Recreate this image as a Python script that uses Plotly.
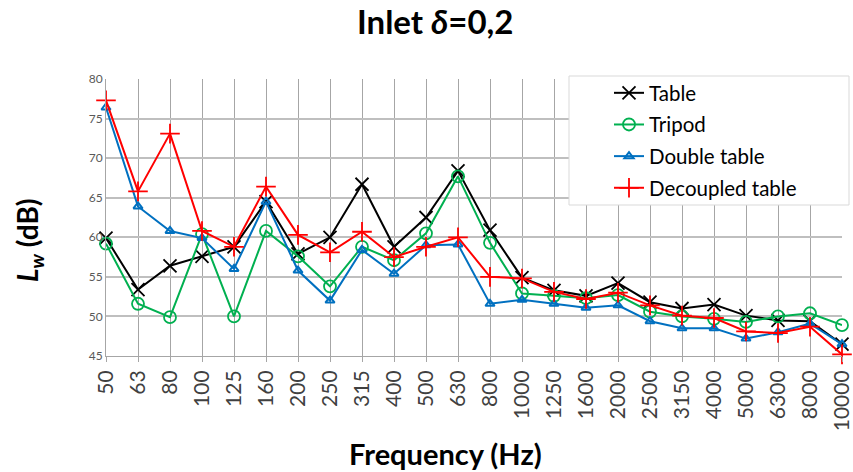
import plotly.graph_objects as go

# Octave/third-octave band centre frequencies (Hz)
freq_labels = ["50", "63", "80", "100", "125", "160", "200", "250", "315", "400",
               "500", "630", "800", "1000", "1250", "1600", "2000", "2500", "3150",
               "4000", "5000", "6300", "8000", "10000"]

# Sound power level Lw (dB) per mounting configuration
table = [59.9, 53.4, 56.4, 57.6, 58.8, 64.5, 57.9, 60.0, 66.7, 58.8, 62.5, 68.4,
         60.9, 54.9, 53.3, 52.6, 54.2, 51.8, 51.0, 51.5, 50.1, 49.5, 49.4, 46.5]
tripod = [59.2, 51.6, 49.9, 60.4, 50.0, 60.8, 57.6, 53.8, 58.8, 57.1, 60.5, 67.7,
          59.3, 52.9, 52.6, 52.3, 52.7, 50.6, 50.0, 49.7, 49.3, 50.0, 50.4, 48.9]
double_table = [76.4, 63.9, 60.8, 59.9, 56.0, 64.5, 55.8, 52.0, 58.4, 55.4, 59.0, 59.1,
                51.6, 52.1, 51.6, 51.1, 51.4, 49.4, 48.5, 48.5, 47.2, 48.0, 49.1, 46.5]
decoupled_table = [77.3, 65.8, 73.1, 60.8, 58.8, 66.4, 60.3, 58.1, 60.7, 57.5, 58.8, 60.0,
                   55.0, 54.8, 53.1, 52.2, 53.0, 51.4, 50.1, 49.8, 48.1, 47.9, 48.7, 45.2]

y_ticks = [45, 50, 55, 60, 65, 70, 75, 80]

W, H = 853, 472
L_M, R_M, T_M, B_M = 106, 11, 79, 116
PW, PH = W - L_M - R_M, H - T_M - B_M


def px_x(p):
    return (p - L_M) / PW


def px_y(p):
    return (H - B_M - p) / PH


x_idx = list(range(len(freq_labels)))

series = [
    ("Table", table, "#000000", "x-thin-open", 13, 1.8),
    ("Tripod", tripod, "#00B050", "circle-open", 12, 1.8),
    ("Double table", double_table, "#0070C0", "triangle-up-open", 8, 2),
    ("Decoupled table", decoupled_table, "#FF0000", "cross-thin-open", 14, 1.8),
]

fig = go.Figure()
for i, (name, vals, col, sym, size, mlw) in enumerate(series):
    fig.add_trace(go.Scatter(
        x=x_idx, y=vals, name=name, mode="lines+markers",
        line=dict(color=col, width=2),
        marker=dict(symbol=sym, size=size, color=col, line=dict(color=col, width=mlw)),
        legendgroup=f"g{i}", cliponaxis=False,
    ))

fig.update_layout(
    width=W, height=H,
    margin=dict(l=L_M, r=R_M, t=T_M, b=B_M, pad=0, autoexpand=False),
    paper_bgcolor="white", plot_bgcolor="white",
    font=dict(family="Lato", color="#404040"),
    showlegend=True,
    legend=dict(
        x=px_x(609), y=px_y(73), xanchor="left", yanchor="top",
        bgcolor="rgba(0,0,0,0)", borderwidth=0,
        font=dict(family="Lato", size=20.5, color="#000000"),
        tracegroupgap=2, itemwidth=30,
    ),
    xaxis=dict(
        range=[0, 23], tickmode="array", tickvals=x_idx, ticktext=freq_labels,
        tickangle=-90, tickfont=dict(family="Lato", size=21, color="#404040"),
        showgrid=True, gridcolor="#A6A6A6", gridwidth=1,
        showline=True, linecolor="#A6A6A6", linewidth=1,
        ticks="outside", ticklen=5, tickcolor="#A6A6A6", zeroline=False,
        automargin=False,
    ),
    yaxis=dict(
        range=[45, 80], tickmode="array", tickvals=y_ticks,
        tickfont=dict(family="Lato", size=12, color="#595959"),
        showgrid=True, gridcolor="#BFBFBF", gridwidth=1.5,
        showline=True, linecolor="#A6A6A6", linewidth=1,
        ticks="", zeroline=False, automargin=False,
    ),
    shapes=[dict(
        type="rect", xref="paper", yref="paper", layer="above",
        x0=px_x(569), x1=px_x(849), y0=px_y(205), y1=px_y(76),
        fillcolor="white", line=dict(color="#D9D9D9", width=1),
    )],
    annotations=[
        dict(text="<b>Inlet <i>δ</i>=0,2</b>", xref="paper", yref="paper",
             x=px_x(435), y=px_y(21), xanchor="center", yanchor="middle",
             showarrow=False, font=dict(family="Lato", size=33, color="#000000")),
        dict(text="<b>Frequency (Hz)</b>", xref="paper", yref="paper",
             x=px_x(445), y=px_y(453), xanchor="center", yanchor="middle",
             showarrow=False, font=dict(family="Lato", size=29, color="#000000")),
        dict(text="<b><i>L</i><sub><i>w</i></sub> (dB)</b>", xref="paper", yref="paper",
             x=px_x(29), y=px_y(240), xanchor="center", yanchor="middle",
             showarrow=False, textangle=-90,
             font=dict(family="Lato", size=28, color="#000000")),
    ],
)

fig.write_html("out.html")
